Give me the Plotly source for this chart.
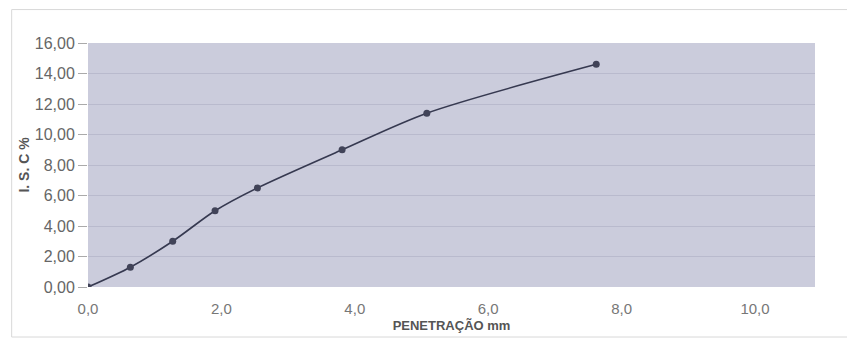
import plotly.graph_objects as go

penetracao_mm = [0.0, 0.635, 1.27, 1.905, 2.54, 3.81, 5.08, 7.62]
isc_pct = [0.0, 1.3, 3.0, 5.0, 6.5, 9.0, 11.4, 14.6]

fig = go.Figure()
fig.add_trace(go.Scatter(
    x=penetracao_mm, y=isc_pct, mode="lines+markers",
    line=dict(color="#363950", width=1.6, shape="spline", smoothing=0.8),
    marker=dict(color="#414358", size=7, symbol="circle"),
    showlegend=False,
))

fig.update_layout(
    width=847, height=334,
    margin=dict(l=80, r=40, t=35, b=55),
    paper_bgcolor="white",
    plot_bgcolor="#cbccdc",
    separators=",.",
    font=dict(family="Liberation Sans, Arial, sans-serif", color="#666666", size=12),
    xaxis=dict(
        range=[0, 10.9], tickvals=[0, 2, 4, 6, 8, 10], tickformat=".1f",
        showgrid=False, zeroline=False, showline=False,
        ticks="outside", ticklen=8, tickcolor="rgba(0,0,0,0)",
        tickfont=dict(size=15, color="#777777"),
        title=dict(text="<b>PENETRAÇÃO mm</b>", font=dict(size=13, color="#555555"), standoff=4),
    ),
    yaxis=dict(
        range=[0, 16], tickvals=[0, 2, 4, 6, 8, 10, 12, 14, 16], tickformat=".2f",
        showgrid=True, gridcolor="#b9bacd", gridwidth=1, zeroline=False, showline=False,
        ticks="outside", ticklen=9, tickcolor="#aaaaaa",
        tickfont=dict(size=16, color="#666666"),
        title=dict(text="<b>I. S. C %</b>", font=dict(size=14, color="#555555"), standoff=1),
    ),
)

fig.add_shape(type="rect", xref="paper", yref="paper",
              x0=-0.105, x1=1.06, y0=-0.205, y1=1.137,
              line=dict(color="#d8d8d8", width=1), layer="below")

fig.write_html("out.html")
